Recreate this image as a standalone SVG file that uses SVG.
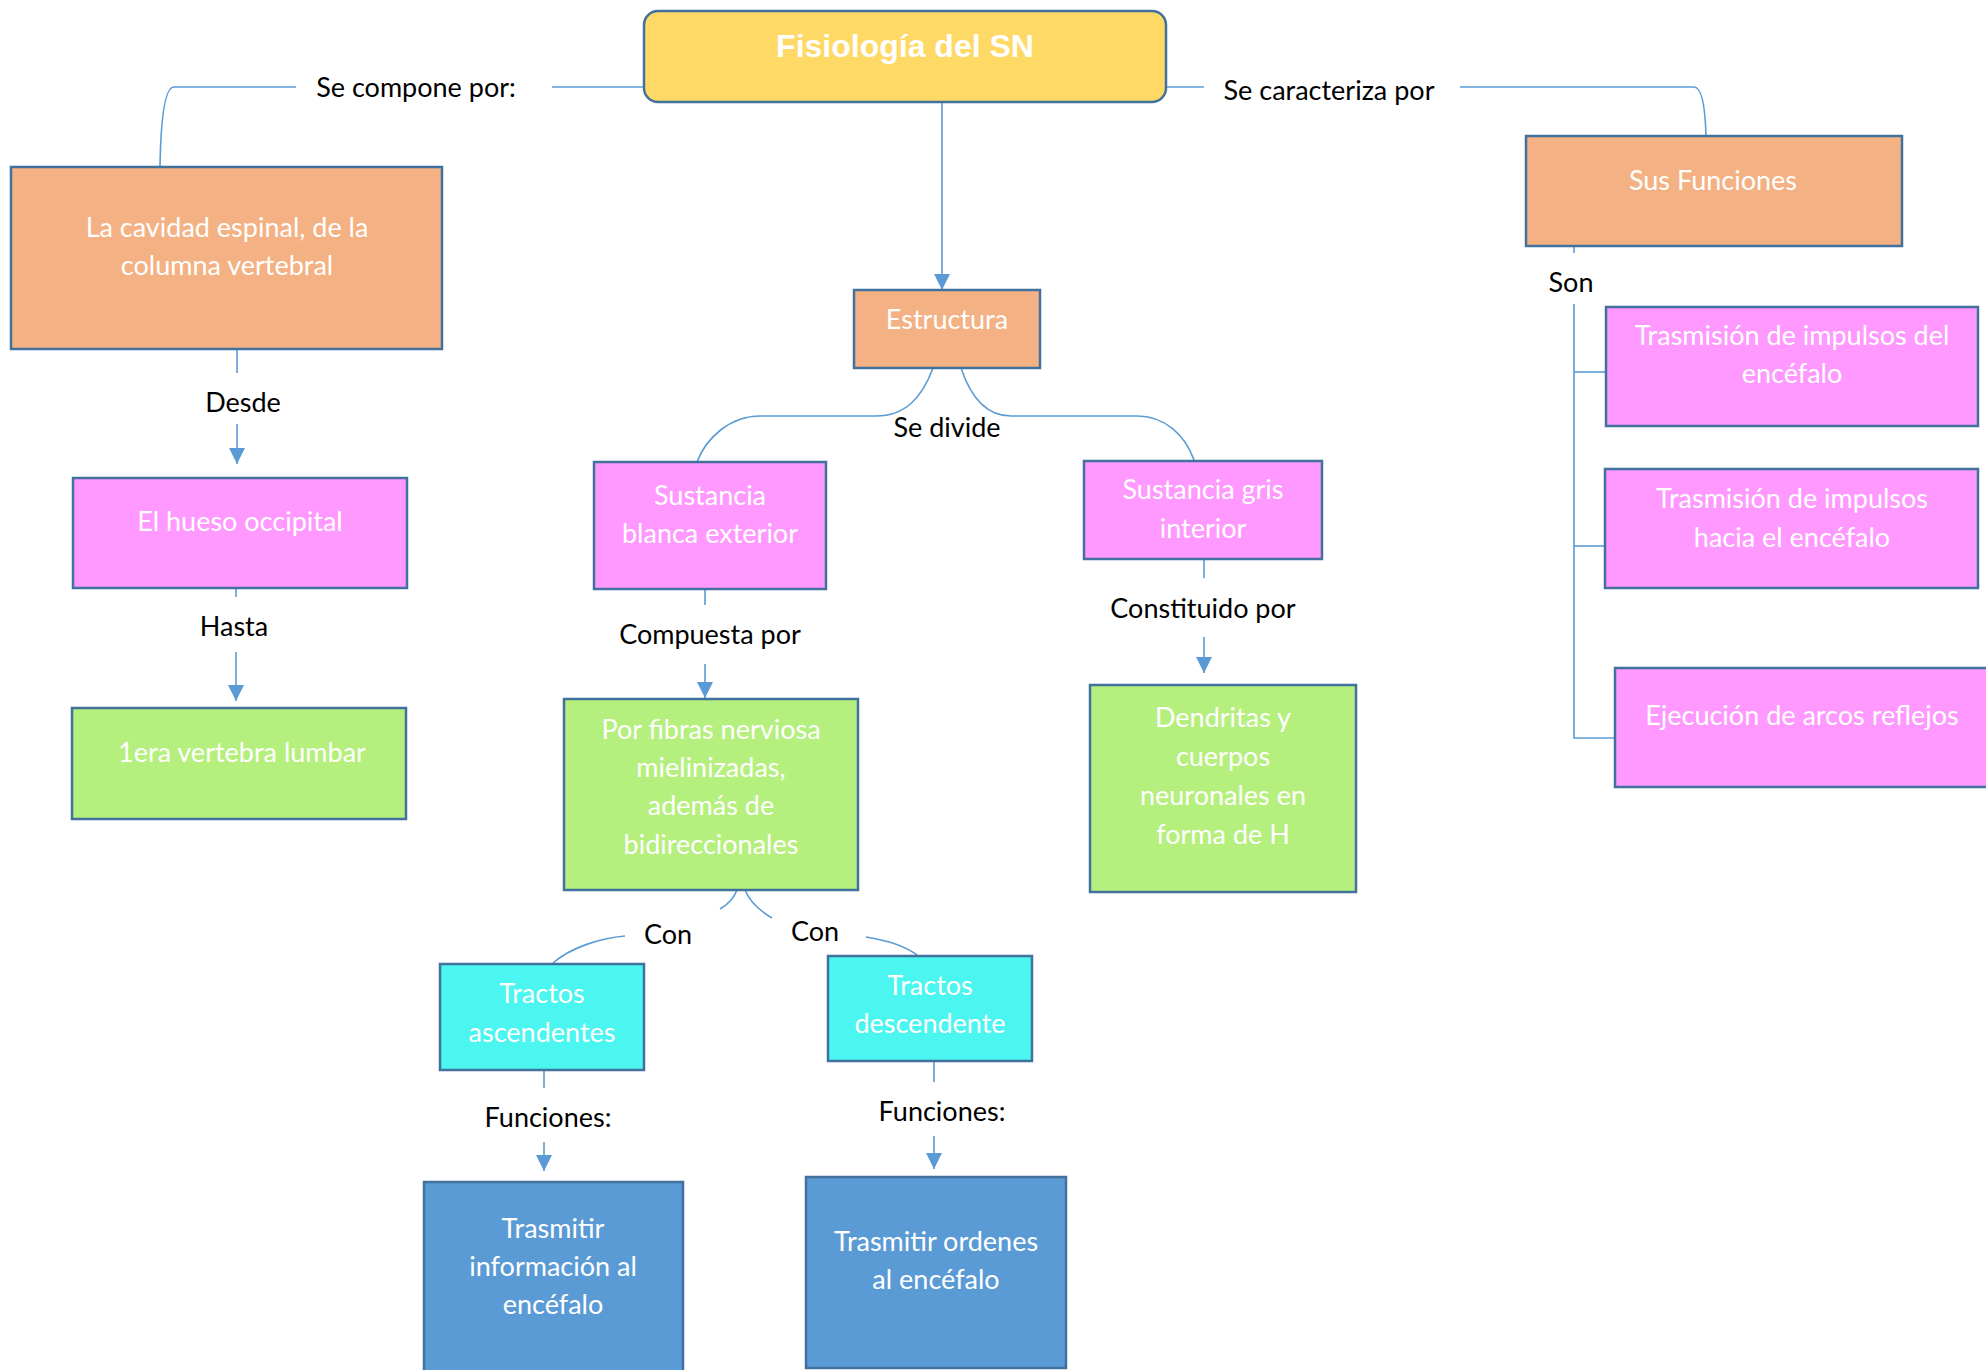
<svg xmlns="http://www.w3.org/2000/svg" width="1986" height="1370" viewBox="0 0 1986 1370">
<defs>
<style>
.box{stroke:#41719C;stroke-width:2.5}
.orange{fill:#F4B183}
.pink{fill:#FF99FF}
.green{fill:#B5EF7D}
.cyan{fill:#4BF5F0}
.blue{fill:#5B9BD5}
.yellow{fill:#FFD966}
.nt{font-family:Lato,"Open Sans","Liberation Sans",sans-serif;font-size:27px;fill:#FFFFFF;text-anchor:middle}
.lb{font-family:Lato,"Open Sans","Liberation Sans",sans-serif;font-size:27px;fill:#000000;text-anchor:middle}
.title{font-family:"Liberation Sans",Arial,sans-serif;font-size:32px;font-weight:bold;fill:#FFFFFF;text-anchor:middle}
.cn{fill:none;stroke:#5B9BD5;stroke-width:1.6}
</style>
<marker id="arr" markerUnits="userSpaceOnUse" viewBox="0 0 16 16" refX="16" refY="8" markerWidth="16" markerHeight="16" orient="auto">
<path d="M0,0 L16,8 L0,16 z" fill="#5B9BD5"/>
</marker>
</defs>
<rect width="1986" height="1370" fill="#FFFFFF"/>

<g id="connectors">
<path class="cn" d="M942 102 V290" marker-end="url(#arr)"/>
<path class="cn" d="M644 87 H552"/>
<path class="cn" d="M296 87 H174 C166 87 161 110 160 166"/>
<path class="cn" d="M1166 87 H1204"/>
<path class="cn" d="M1460 87 H1694 C1700 87 1705 100 1706 136"/>
<path class="cn" d="M237 349 V373"/>
<path class="cn" d="M237 424 V464" marker-end="url(#arr)"/>
<path class="cn" d="M236 588 V597"/>
<path class="cn" d="M236 652 V701" marker-end="url(#arr)"/>
<path class="cn" d="M933 368 C922 398 905 416 876 416 H760 C730 416 706 438 697 462"/>
<path class="cn" d="M961 368 C970 395 985 416 1011 416 H1137 C1165 416 1185 435 1194 460"/>
<path class="cn" d="M705 589 V605"/>
<path class="cn" d="M705 664 V698" marker-end="url(#arr)"/>
<path class="cn" d="M1204 559 V578"/>
<path class="cn" d="M1204 637 V673" marker-end="url(#arr)"/>
<path class="cn" d="M737 890 C734 898 727 905 720 909"/>
<path class="cn" d="M625 936 C600 938 570 948 553 963"/>
<path class="cn" d="M745 890 C750 902 760 911 772 918"/>
<path class="cn" d="M866 937 C885 940 905 946 917 955"/>
<path class="cn" d="M544 1070 V1088"/>
<path class="cn" d="M544 1142 V1171" marker-end="url(#arr)"/>
<path class="cn" d="M934 1062 V1082"/>
<path class="cn" d="M934 1136 V1169" marker-end="url(#arr)"/>
<path class="cn" d="M1574 246 V253"/>
<path class="cn" d="M1574 304 V738 H1615"/>
<path class="cn" d="M1574 372 H1606"/>
<path class="cn" d="M1574 546 H1605"/>
</g>

<g id="labels">
<text class="lb" x="416" y="97">Se compone por:</text>
<text class="lb" x="1329" y="100">Se caracteriza por</text>
<text class="lb" x="1571" y="292">Son</text>
<text class="lb" x="243" y="412">Desde</text>
<text class="lb" x="234" y="636">Hasta</text>
<text class="lb" x="947" y="437">Se divide</text>
<text class="lb" x="710" y="644">Compuesta por</text>
<text class="lb" x="1203" y="618">Constituido por</text>
<text class="lb" x="668" y="944">Con</text>
<text class="lb" x="815" y="941">Con</text>
<text class="lb" x="548" y="1127">Funciones:</text>
<text class="lb" x="942" y="1121">Funciones:</text>
</g>

<g id="title">
<rect class="box yellow" x="644" y="11" width="522" height="91" rx="14"/>
<text class="title" x="905" y="57">Fisiología del SN</text>
</g>

<g id="cavidad">
<rect class="box orange" x="11" y="167" width="431" height="182"/>
<text class="nt" x="227" y="237">La cavidad espinal, de la</text>
<text class="nt" x="227" y="275">columna vertebral</text>
</g>

<g id="sus-funciones">
<rect class="box orange" x="1526" y="136" width="376" height="110"/>
<text class="nt" x="1713" y="190">Sus Funciones</text>
</g>

<g id="funcion1">
<rect class="box pink" x="1606" y="307" width="372" height="119"/>
<text class="nt" x="1792" y="345">Trasmisión de impulsos del</text>
<text class="nt" x="1792" y="383">encéfalo</text>
</g>

<g id="funcion2">
<rect class="box pink" x="1605" y="469" width="373" height="119"/>
<text class="nt" x="1792" y="508">Trasmisión de impulsos</text>
<text class="nt" x="1792" y="547">hacia el encéfalo</text>
</g>

<g id="funcion3">
<rect class="box pink" x="1615" y="668" width="377" height="119"/>
<text class="nt" x="1802" y="725">Ejecución de arcos reflejos</text>
</g>

<g id="hueso">
<rect class="box pink" x="73" y="478" width="334" height="110"/>
<text class="nt" x="240" y="531">El hueso occipital</text>
</g>

<g id="vertebra">
<rect class="box green" x="72" y="708" width="334" height="111"/>
<text class="nt" x="242" y="762">1era vertebra lumbar</text>
</g>

<g id="estructura">
<rect class="box orange" x="854" y="290" width="186" height="78"/>
<text class="nt" x="947" y="329">Estructura</text>
</g>

<g id="blanca">
<rect class="box pink" x="594" y="462" width="232" height="127"/>
<text class="nt" x="710" y="505">Sustancia</text>
<text class="nt" x="710" y="543">blanca exterior</text>
</g>

<g id="gris">
<rect class="box pink" x="1084" y="461" width="238" height="98"/>
<text class="nt" x="1203" y="499">Sustancia gris</text>
<text class="nt" x="1203" y="538">interior</text>
</g>

<g id="fibras">
<rect class="box green" x="564" y="699" width="294" height="191"/>
<text class="nt" x="711" y="739">Por fibras nerviosa</text>
<text class="nt" x="711" y="777">mielinizadas,</text>
<text class="nt" x="711" y="815">además de</text>
<text class="nt" x="711" y="854">bidireccionales</text>
</g>

<g id="dendritas">
<rect class="box green" x="1090" y="685" width="266" height="207"/>
<text class="nt" x="1223" y="727">Dendritas y</text>
<text class="nt" x="1223" y="766">cuerpos</text>
<text class="nt" x="1223" y="805">neuronales en</text>
<text class="nt" x="1223" y="844">forma de H</text>
</g>

<g id="ascendentes">
<rect class="box cyan" x="440" y="964" width="204" height="106"/>
<text class="nt" x="542" y="1003">Tractos</text>
<text class="nt" x="542" y="1042">ascendentes</text>
</g>

<g id="descendente">
<rect class="box cyan" x="828" y="956" width="204" height="105"/>
<text class="nt" x="930" y="995">Tractos</text>
<text class="nt" x="930" y="1033">descendente</text>
</g>

<g id="informacion">
<rect class="box blue" x="424" y="1182" width="259" height="198"/>
<text class="nt" x="553" y="1238">Trasmitir</text>
<text class="nt" x="553" y="1276">información al</text>
<text class="nt" x="553" y="1314">encéfalo</text>
</g>

<g id="ordenes">
<rect class="box blue" x="806" y="1177" width="260" height="191"/>
<text class="nt" x="936" y="1251">Trasmitir ordenes</text>
<text class="nt" x="936" y="1289">al encéfalo</text>
</g>
</svg>
